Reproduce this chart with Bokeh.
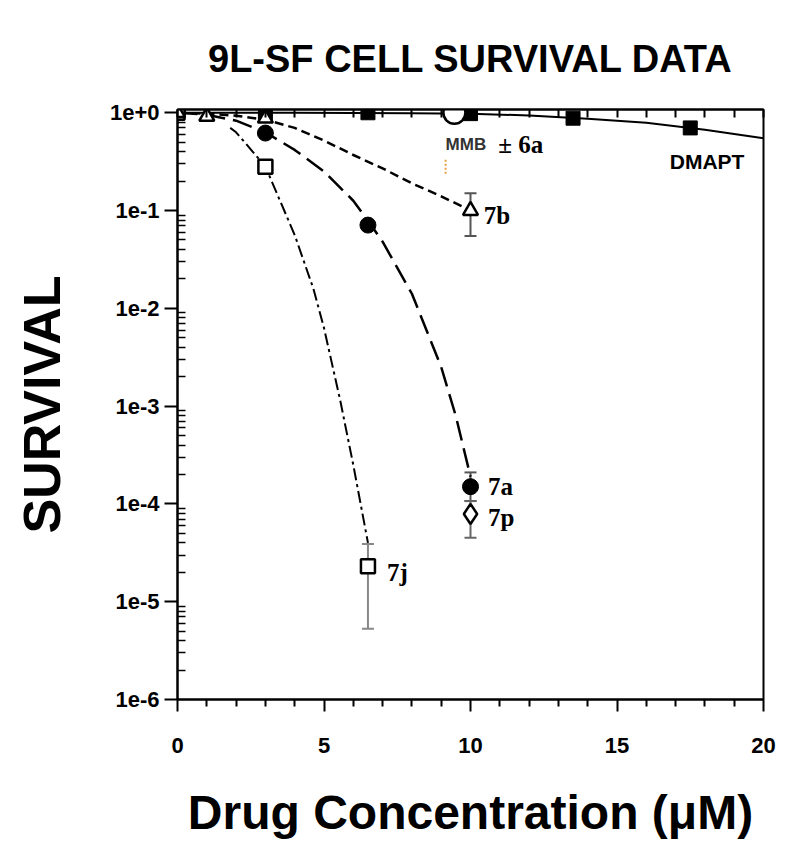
from bokeh.plotting import figure
from bokeh.models import (LinearAxis, FixedTicker, CustomJSTickFormatter, ColumnDataSource,
                          Whisker, TeeHead, Range1d)
from bokeh.core.properties import value
from bokeh.embed import file_html
from bokeh.resources import INLINE

# ---------------- data ----------------
# DMAPT (filled squares, solid fit)
dmapt_x = [0, 3, 6.5, 10, 13.5, 17.5]
dmapt_y = [1.0, 1.0, 1.0, 0.98, 0.88, 0.70]
dmapt_fit_x = [0, 4, 8, 10, 12, 14, 16, 18, 20]
dmapt_fit_y = [1.0, 1.0, 0.99, 0.975, 0.94, 0.87, 0.79, 0.67, 0.55]

# MMB +/- 6a (large open circle)
mmb_x = [9.45]
mmb_y = [1.0]

# 7b (open triangles, short dashes)
b7_x = [0, 1, 3, 10]
b7_y = [1.0, 0.92, 0.88, 0.10]
b7_fit_x = [0, 1, 2, 3, 4, 5, 6, 7, 8, 9, 10]
b7_fit_y = [1.0, 0.977, 0.933, 0.85, 0.70, 0.52, 0.37, 0.27, 0.19, 0.14, 0.10]
b7_err_x = [10]
b7_err_lo = [0.055]
b7_err_hi = [0.15]

# 7a (filled circles, long dashes)
a7_x = [0, 3, 6.5, 10]
a7_y = [1.0, 0.62, 0.071, 1.5e-4]
a7_fit_x = [0, 1, 2, 3, 4, 5, 6, 6.5, 7, 8, 9, 9.5, 10]
a7_fit_y = [1.0, 0.955, 0.83, 0.63, 0.417, 0.251, 0.126, 0.079, 0.048,
            0.0141, 0.00251, 7.9e-4, 1.9e-4]
a7_err_x = [10]
a7_err_lo = [1.07e-4]
a7_err_hi = [2.1e-4]

# 7p (open diamond)
p7_x = [10]
p7_y = [7.9e-5]
p7_err_x = [10]
p7_err_lo = [4.5e-5]
p7_err_hi = [1.07e-4]

# 7j (open squares, dash-dot)
j7_x = [0, 3, 6.5]
j7_y = [1.0, 0.28, 2.3e-5]
j7_fit_x = [1.8, 2, 3, 4, 4.64, 5, 5.56, 6, 6.25, 6.5]
j7_fit_y = [0.70, 0.631, 0.282, 0.0562, 0.0158, 0.0063, 0.00112, 2.5e-4, 1.0e-4, 4.0e-5]
j7_err_x = [6.5]
j7_err_lo = [5.3e-6]
j7_err_hi = [3.9e-5]

# axis ticks
x_major = [0, 5, 10, 15, 20]
x_minor = [1, 2, 3, 4, 6, 7, 8, 9, 11, 12, 13, 14, 16, 17, 18, 19]
x_top = list(range(0, 21))
y_major = [1e-6, 1e-5, 1e-4, 1e-3, 1e-2, 1e-1, 1e0]
y_minor = [k * d for d in [1e-6, 1e-5, 1e-4, 1e-3, 1e-2, 1e-1] for k in range(2, 10)]

# text labels
title_text = "9L-SF CELL SURVIVAL DATA"
serif_lab_x = [10.45, 10.6, 10.6, 7.15]
serif_lab_y = [0.088, 1.5e-4, 7.2e-5, 2.0e-5]
serif_lab_t = ["7b", "7a", "7p", "7j"]

# ---------------- figure ----------------
p = figure(width=784, height=845, y_axis_type="log",
           x_range=Range1d(0, 20), y_range=Range1d(1e-6, 1.08),
           output_backend="svg", toolbar_location=None,
           min_border_left=177, min_border_right=21,
           min_border_top=109, min_border_bottom=146)
p.xgrid.visible = False
p.ygrid.visible = False
p.outline_line_color = "black"
p.outline_line_width = 2
p.background_fill_color = "white"
p.border_fill_color = "white"

p.title.text = title_text
p.title.align = "center"
p.title.text_font = "Liberation Sans"
p.title.text_font_size = "38px"
p.title.text_font_style = "bold"
p.title.text_color = "black"
p.title.standoff = 60

# bottom axis (configured before the top axis is added)
xa = p.below[0]
xa.ticker = FixedTicker(ticks=x_major, minor_ticks=x_minor)
xa.axis_line_width = 2
xa.major_tick_line_width = 2
xa.minor_tick_line_width = 2
xa.major_tick_out = 12
xa.major_tick_in = 0
xa.minor_tick_out = 7
xa.minor_tick_in = 0
xa.major_label_text_font = "Liberation Sans"
xa.major_label_text_font_size = "22px"
xa.major_label_text_font_style = "bold"
xa.major_label_text_color = "black"
xa.major_label_standoff = 26
xa.axis_label = "Drug Concentration (μM)"
xa.axis_label_text_font = "Liberation Sans"
xa.axis_label_text_font_size = "48px"
xa.axis_label_text_font_style = "bold"
xa.axis_label_text_color = "black"
xa.axis_label_standoff = 30

# left axis
ya = p.left[0]
ya.ticker = FixedTicker(ticks=y_major, minor_ticks=y_minor)
ya.formatter = CustomJSTickFormatter(code="""
const e = Math.round(Math.log10(tick));
return '1e' + (e >= 0 ? '+' : '') + e;
""")
ya.axis_line_width = 2
ya.major_tick_line_width = 2
ya.minor_tick_line_width = 1.5
ya.major_tick_out = 13
ya.major_tick_in = 0
ya.minor_tick_in = 8
ya.minor_tick_out = 0
ya.major_label_text_font = "Liberation Sans"
ya.major_label_text_font_size = "22px"
ya.major_label_text_font_style = "bold"
ya.major_label_text_color = "black"
ya.major_label_standoff = 5
ya.axis_label = "SURVIVAL"
ya.axis_label_text_font = "Liberation Sans"
ya.axis_label_text_font_size = "52px"
ya.axis_label_text_font_style = "bold"
ya.axis_label_text_color = "black"
ya.axis_label_standoff = 36

# top axis (ticks only)
ta = LinearAxis(ticker=FixedTicker(ticks=x_top, minor_ticks=[]),
                formatter=CustomJSTickFormatter(code="return '';"))
ta.axis_line_width = 2
ta.major_tick_line_width = 2
ta.major_tick_in = 8
ta.major_tick_out = 0
ta.minor_tick_in = 0
ta.minor_tick_out = 0
ta.major_label_text_font_size = "1px"
ta.major_label_standoff = 0
p.add_layout(ta, "above")

# ---------------- fit lines ----------------
p.line(dmapt_fit_x, dmapt_fit_y, line_color="black", line_width=2)
p.line(b7_fit_x, b7_fit_y, line_color="black", line_width=2.5, line_dash="9 5")
p.line(a7_fit_x, a7_fit_y, line_color="black", line_width=2.5, line_dash="20 8")
p.line(j7_fit_x, j7_fit_y, line_color="black", line_width=2, line_dash="12 4 3 4")

# ---------------- error bars ----------------
def add_err(xs, lo, hi, color):
    src = ColumnDataSource(dict(x=xs, lo=lo, hi=hi))
    w = Whisker(source=src, base="x", lower="lo", upper="hi", dimension="height",
                line_color=color, line_width=2,
                upper_head=TeeHead(size=12, line_color=color, line_width=2),
                lower_head=TeeHead(size=12, line_color=color, line_width=2))
    p.add_layout(w)

add_err(b7_err_x, b7_err_lo, b7_err_hi, "#555555")
add_err(a7_err_x, a7_err_lo, a7_err_hi, "#555555")
add_err(p7_err_x, p7_err_lo, p7_err_hi, "#666666")
add_err(j7_err_x, j7_err_lo, j7_err_hi, "#888888")

# ---------------- markers ----------------
p.scatter(dmapt_x, dmapt_y, marker="square", size=14, fill_color="black", line_color="black")
p.scatter(a7_x, a7_y, marker="circle", size=16, fill_color="black", line_color="black")
p.scatter(j7_x, j7_y, marker="square", size=14, fill_color="white", line_color="black", line_width=2.5)
p.scatter(b7_x, b7_y, marker="triangle", size=15, fill_color="white", line_color="black", line_width=2.5)
p.scatter(p7_x, p7_y, marker="diamond", size=20, fill_color="white", line_color="black", line_width=2.5)
p.scatter(mmb_x, mmb_y, marker="circle", size=22, fill_color="white", line_color="black", line_width=2.5)

# small orange dotted mark under MMB label
p.line([9.15, 9.15], [0.33, 0.235], line_color="#e8a040", line_width=2, line_dash="2 2")

# ---------------- text labels ----------------
p.text(x=serif_lab_x, y=serif_lab_y, text=serif_lab_t,
       text_font=value("Liberation Serif"), text_font_style="bold",
       text_font_size="25px", text_baseline="middle", text_align="left",
       text_color="black")
p.text(x=[9.15], y=[0.47], text=["MMB"], text_font=value("Liberation Sans"),
       text_font_style="bold", text_font_size="17px", text_baseline="alphabetic",
       text_align="left", text_color="#333333")
p.text(x=[10.95], y=[0.47], text=["± 6a"], text_font=value("Liberation Serif"),
       text_font_style="bold", text_font_size="25px", text_baseline="alphabetic",
       text_align="left", text_color="black")
p.text(x=[16.8], y=[0.32], text=["DMAPT"], text_font=value("Liberation Sans"),
       text_font_style="bold", text_font_size="21px", text_baseline="alphabetic",
       text_align="left", text_color="black")

open("out.html", "w").write(file_html(p, INLINE))
